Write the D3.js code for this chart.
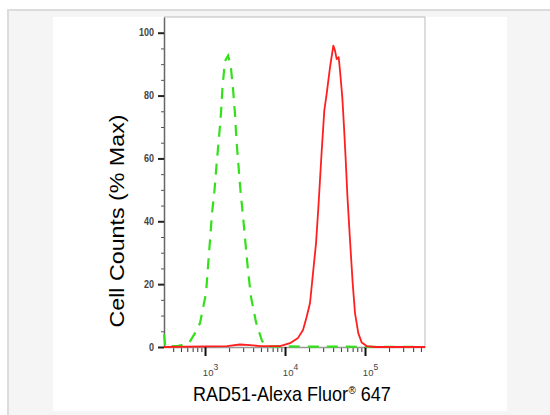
<!DOCTYPE html>
<html>
<head>
<meta charset="utf-8">
<script src="https://cdn.jsdelivr.net/npm/d3@7"></script>
<style>
  body { margin: 0; background: #fff; }
  .tick text { fill: #444; }
</style>
</head>
<body>
<div id="chart"></div>
<script>
// Flow histogram: RAD51 stained vs control

const width = 550
const height = 415

// Plot area
const plot = { left: 164, right: 425, top: 17, bottom: 347 }

// Axis extents (fluorescence, % of max)
const xDomain = [307, 562341]
const yDomain = [0, 105]
const yMajor = [0, 20, 40, 60, 80, 100]
const yMinor = [5, 10, 15, 25, 30, 35, 45, 50, 55, 65, 70, 75, 85, 90, 95]
const xMajor = [1e3, 1e4, 1e5]
const xMinor = [400, 500, 600, 700, 800, 900,
  2e3, 3e3, 4e3, 5e3, 6e3, 7e3, 8e3, 9e3,
  2e4, 3e4, 4e4, 5e4, 6e4, 7e4, 8e4, 9e4,
  2e5, 3e5, 4e5, 5e5]

// Control (green, dashed)
const controlX = [307, 320, 355, 398, 457, 631, 750, 866, 917, 1029, 1090, 1155, 1223, 1315, 1393,
  1496, 1585, 1656, 1778, 1939, 2089, 2239, 2371, 2477, 2624, 2780, 2985, 3206, 3447, 3758,
  4340, 5158, 6131, 562341]
const controlY = [4, 0, 0, 0.3, 0.3, 1.3, 4.4, 7.6, 10.8, 17.1, 25.7, 34, 42.5, 50, 58,
  66.7, 74.6, 82.9, 91, 92.7, 89.8, 82.2, 74, 65.4, 57.5, 49.5, 41.6, 33, 24.4, 15.9,
  7.9, 1.9, 0.2, 0]

// RAD51 (red, solid)
const rad51X = [307, 1884, 2738, 3652, 4870, 8660, 11548, 14540, 16788, 18660, 20535, 22387,
  24409, 26062, 28774, 30974, 33189, 36517, 40179, 42170, 44259, 46881, 48697, 51999,
  54637, 57412, 60256, 64938, 70146, 74989, 82414, 90991, 104954, 133352, 562341]
const rad51Y = [0, 0.3, 0.8, 0.6, 0.3, 0.3, 1.2, 2.9, 5.4, 9.6, 14, 23.5,
  33, 44, 62.5, 75.2, 80.6, 89, 95.9, 94.3, 91.6, 92.2, 87.9, 79.5,
  70, 59.4, 48, 34, 20.3, 10.8, 4.4, 1.4, 0.3, 0, 0]

const svg = d3.select('#chart')
  .append('svg')
  .attr('width', width)
  .attr('height', height)

// page frame
svg.append('rect')
  .attr('x', 8).attr('y', 10)
  .attr('width', 560).attr('height', 420)
  .attr('fill', '#f5f5f5')
  .attr('stroke', '#dcdcdc')
  .attr('stroke-width', 2)

svg.append('rect')
  .attr('x', 53).attr('y', 17)
  .attr('width', 454).attr('height', 394)
  .attr('fill', '#fff')

const x = d3.scaleLog().domain(xDomain).range([plot.left, plot.right])
const y = d3.scaleLinear().domain(yDomain).range([plot.bottom, plot.top])

// box
svg.append('path')
  .attr('d', `M${plot.left},${plot.top}H${plot.right}V${plot.bottom}`)
  .attr('fill', 'none')
  .attr('stroke', '#bbb')
  .attr('stroke-width', 1)

// y axis
const yMinorG = svg.append('g')
  .attr('transform', `translate(${plot.left},0)`)
  .call(d3.axisLeft(y).tickValues(yMinor).tickSize(3).tickFormat(''))
yMinorG.select('.domain').remove()
yMinorG.selectAll('line').attr('stroke', '#555')

const yG = svg.append('g')
  .attr('transform', `translate(${plot.left},0)`)
  .call(d3.axisLeft(y).tickValues(yMajor).tickSize(6).tickPadding(5).tickSizeOuter(0))
yG.select('.domain').attr('stroke', '#666').attr('stroke-width', 1.5)
yG.selectAll('line').attr('stroke', '#222').attr('stroke-width', 2)
yG.selectAll('text')
  .attr('font-family', '"Liberation Sans Narrow", "Liberation Sans", Arial, sans-serif')
  .attr('font-size', 10)
  .attr('font-weight', 'bold')
  .attr('transform', 'scale(0.9,1)')

// x axis
const xMinorG = svg.append('g')
  .attr('transform', `translate(0,${plot.bottom})`)
  .call(d3.axisBottom(x).tickValues(xMinor).tickSize(5).tickFormat(''))
xMinorG.select('.domain').remove()
xMinorG.selectAll('line').attr('stroke', '#333')

const xG = svg.append('g')
  .attr('transform', `translate(0,${plot.bottom})`)
  .call(d3.axisBottom(x).tickValues(xMajor).tickSize(9).tickSizeOuter(0).tickFormat(''))
xG.select('.domain').attr('stroke', '#999').attr('stroke-width', 1.5)
xG.selectAll('line').attr('stroke', '#111').attr('stroke-width', 2)

const xt = xG.selectAll('.tick').append('text')
  .attr('x', 5)
  .attr('y', 29)
  .attr('text-anchor', 'middle')
  .attr('fill', '#333')
  .attr('font-family', '"Liberation Sans Narrow", "Liberation Sans", Arial, sans-serif')
  .attr('font-size', 9.5)
xt.append('tspan').text('10')
xt.append('tspan')
  .attr('dy', -6)
  .attr('font-size', 8.5)
  .text(d => Math.round(Math.log10(d)))

// curves
const line = d3.line()
  .x(d => x(d[0]))
  .y(d => y(d[1]))

svg.append('path')
  .datum(d3.zip(controlX, controlY))
  .attr('d', line)
  .attr('fill', 'none')
  .attr('stroke', '#33e01a')
  .attr('stroke-width', 2.2)
  .attr('stroke-dasharray', '11,8')

svg.append('path')
  .datum(d3.zip(rad51X, rad51Y))
  .attr('d', line)
  .attr('fill', 'none')
  .attr('stroke', '#ff1f1f')
  .attr('stroke-width', 1.8)
  .attr('stroke-linejoin', 'round')

// axis titles
svg.append('text')
  .text('Cell Counts (% Max)')
  .attr('transform', 'translate(124,221) rotate(-90)')
  .attr('text-anchor', 'middle')
  .attr('font-family', '"Liberation Sans", Arial, sans-serif')
  .attr('font-size', 20)
  .attr('textLength', 213)
  .attr('lengthAdjust', 'spacingAndGlyphs')
  .attr('fill', '#000')

// x title in three pieces so the registered mark sits raised
const titleFont = '"Liberation Sans", Arial, sans-serif'
const xTitle = svg.append('g').attr('transform', 'translate(193,401) scale(0.9,1)')
const part1 = xTitle.append('text')
  .text('RAD51-Alexa Fluor')
  .attr('font-family', titleFont)
  .attr('font-size', 20)
  .attr('fill', '#000')
const w1 = part1.node().getComputedTextLength()
const reg = xTitle.append('text')
  .text('®')
  .attr('x', w1 + 0.5)
  .attr('y', -7)
  .attr('font-family', titleFont)
  .attr('font-size', 11)
  .attr('fill', '#000')
const w2 = reg.node().getComputedTextLength()
xTitle.append('text')
  .text('647')
  .attr('x', w1 + w2 + 6)
  .attr('font-family', titleFont)
  .attr('font-size', 20)
  .attr('fill', '#000')
</script>
</body>
</html>
